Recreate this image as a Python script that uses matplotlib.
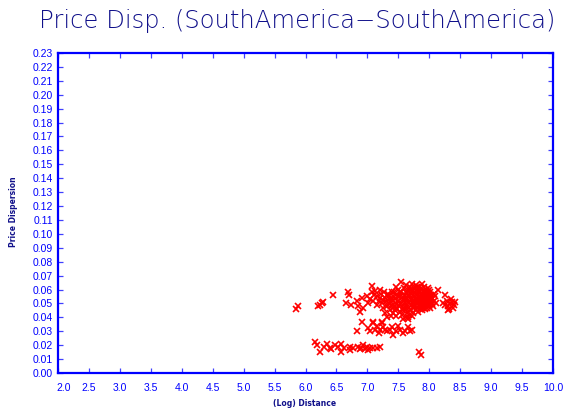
import matplotlib
matplotlib.use("Agg")
import matplotlib.pyplot as plt
import matplotlib.transforms as mtransforms
import numpy as np

# (log distance, price dispersion) for South America city pairs
log_distance = [
    # isolated low-distance pairs
    5.85, 5.88, 6.20, 6.23, 6.26, 6.29, 6.45, 6.69, 6.70,
    # left part of the upper group
    6.66, 6.74, 6.83, 6.85, 6.91, 6.93, 6.99, 7.07, 7.07, 7.12, 7.15,
    7.20, 7.09, 7.01, 6.88, 7.26, 7.31, 7.31,
    7.18, 7.22, 7.24, 7.27, 7.29, 7.25, 7.28, 7.32, 7.38,
    7.04, 7.11, 7.16, 7.21, 7.34, 7.37, 7.43, 7.49, 7.39, 7.45,
    # main group
    7.30, 7.33, 7.35, 7.36, 7.38, 7.40, 7.41, 7.42, 7.44, 7.45,
    7.46, 7.47, 7.48, 7.50, 7.50, 7.51, 7.52, 7.53, 7.54, 7.55,
    7.55, 7.56, 7.57, 7.58, 7.59, 7.60, 7.60, 7.61, 7.62, 7.62,
    7.63, 7.64, 7.65, 7.65, 7.66, 7.67, 7.68, 7.68, 7.69, 7.70,
    7.70, 7.71, 7.72, 7.72, 7.73, 7.74, 7.74, 7.75, 7.75, 7.76,
    7.77, 7.77, 7.78, 7.78, 7.79, 7.79, 7.80, 7.80, 7.81, 7.81,
    7.82, 7.82, 7.83, 7.83, 7.84, 7.84, 7.85, 7.85, 7.86, 7.86,
    7.87, 7.87, 7.88, 7.88, 7.89, 7.89, 7.90, 7.90, 7.91, 7.91,
    7.92, 7.92, 7.93, 7.93, 7.94, 7.94, 7.95, 7.95, 7.96, 7.96,
    7.97, 7.97, 7.98, 7.98, 7.99, 8.00, 8.00, 8.01, 8.02, 8.02,
    8.03, 8.04, 8.05, 8.06, 8.07, 8.08, 8.10, 8.11,
    7.58, 7.66, 7.72, 7.47, 7.63, 7.72, 7.88,
    7.61, 7.64, 7.67, 7.71, 7.74, 7.76, 7.79, 7.82, 7.85, 7.88,
    7.91, 7.94, 7.97, 8.00, 8.03, 7.63, 7.69, 7.73, 7.78, 7.83,
    7.87, 7.92, 7.96, 8.01, 8.05, 7.66, 7.75, 7.81, 7.90, 7.99,
    7.57, 7.53, 7.49, 7.44, 7.40, 7.35, 7.58, 7.52, 7.46, 7.42,
    # far right group
    8.14, 8.25, 8.22, 8.28, 8.30, 8.33, 8.36, 8.40, 8.38, 8.30,
    8.26, 8.35, 8.42, 8.32,
    # middle band
    6.84, 6.92, 7.01, 7.04, 7.09, 7.12, 7.15, 7.18, 7.20, 7.23,
    7.26, 7.28, 7.32, 7.36, 7.40, 7.42, 7.46, 7.50, 7.53, 7.57,
    7.61, 7.65, 7.69, 7.72, 7.66, 7.09, 7.23,
    # lower band
    6.15, 6.18, 6.23, 6.30, 6.34, 6.39, 6.42, 6.47, 6.53, 6.58,
    6.58, 6.62, 6.72, 6.72, 6.76, 6.85, 6.88, 6.90, 6.93, 6.96,
    6.99, 7.01, 7.05, 7.09, 7.15, 7.20,
    # low outliers
    7.84, 7.86,
]

price_dispersion = [
    0.046, 0.048, 0.048, 0.049, 0.050, 0.051, 0.056, 0.058, 0.056,
    0.050, 0.049, 0.0515, 0.048, 0.054, 0.0467, 0.055, 0.0623, 0.058, 0.0587, 0.055,
    0.060, 0.0515, 0.050, 0.044, 0.0527, 0.056, 0.048,
    0.052, 0.057, 0.050, 0.058, 0.054, 0.047, 0.043, 0.040, 0.041,
    0.053, 0.056, 0.049, 0.054, 0.057, 0.053, 0.058, 0.055, 0.049, 0.045,
    0.052, 0.049, 0.055, 0.045, 0.051, 0.058, 0.047, 0.043, 0.053, 0.050,
    0.056, 0.041, 0.046, 0.060, 0.052, 0.048, 0.044, 0.055, 0.058, 0.0655,
    0.050, 0.042, 0.047, 0.053, 0.061, 0.045, 0.056, 0.050, 0.040, 0.058,
    0.048, 0.053, 0.044, 0.060, 0.051, 0.047, 0.055, 0.042, 0.062, 0.049,
    0.057, 0.045, 0.053, 0.059, 0.050, 0.043, 0.047, 0.055, 0.061, 0.052,
    0.049, 0.058, 0.045, 0.063, 0.054, 0.050, 0.047, 0.060, 0.056, 0.052,
    0.044, 0.058, 0.049, 0.062, 0.054, 0.051, 0.046, 0.059, 0.056, 0.053,
    0.048, 0.061, 0.050, 0.057, 0.045, 0.054, 0.052, 0.059, 0.048, 0.056,
    0.062, 0.050, 0.054, 0.046, 0.058, 0.052, 0.049, 0.060, 0.055, 0.051,
    0.047, 0.057, 0.053, 0.061, 0.049, 0.055, 0.051, 0.058, 0.047, 0.053,
    0.056, 0.050, 0.054, 0.048, 0.057, 0.052, 0.055, 0.050,
    0.039, 0.040, 0.041, 0.062, 0.063, 0.064, 0.064,
    0.0525, 0.0575, 0.0505, 0.0545, 0.0595, 0.0485, 0.0565, 0.0515, 0.0555, 0.0475,
    0.0535, 0.0505, 0.0555, 0.0485, 0.0525, 0.0465, 0.0595, 0.0515, 0.0535, 0.0585,
    0.0505, 0.0545, 0.0575, 0.0535, 0.0495, 0.0555, 0.0475, 0.0615, 0.0465, 0.0595,
    0.0545, 0.0495, 0.0515, 0.0485, 0.0535, 0.0505, 0.0455, 0.0585, 0.0465, 0.0555,
    0.060, 0.056, 0.050, 0.052, 0.048, 0.050, 0.051, 0.049, 0.047, 0.045,
    0.049, 0.053, 0.051, 0.046,
    0.030, 0.037, 0.032, 0.030, 0.036, 0.031, 0.034, 0.029, 0.031, 0.036,
    0.033, 0.031, 0.030, 0.031, 0.033, 0.027, 0.030, 0.034, 0.031, 0.029,
    0.030, 0.033, 0.030, 0.031, 0.039, 0.037, 0.037,
    0.0225, 0.020, 0.0153, 0.019, 0.021, 0.018, 0.017, 0.020, 0.019, 0.021,
    0.015, 0.018, 0.019, 0.0165, 0.018, 0.019, 0.017, 0.018, 0.020, 0.017,
    0.019, 0.0165, 0.018, 0.018, 0.018, 0.019,
    0.015, 0.013,
]

x_ticks = np.arange(2.0, 10.01, 0.5)
y_ticks = np.arange(0.0, 0.2301, 0.01)

AXIS_BLUE = "#0000ff"
TEXT_NAVY = "#10108a"

fig = plt.figure(figsize=(5.65, 4.12), dpi=100)
ax = fig.add_axes([58 / 565, 39 / 412, 495 / 565, 320 / 412])

ax.plot(log_distance, price_dispersion, linestyle="none", marker="x",
        color="#ff0000", markersize=5, markeredgewidth=1.2)

ax.set_xlim(2.0, 10.0)
ax.set_ylim(0.0, 0.23)
ax.set_xticks(x_ticks)
ax.set_yticks(y_ticks)
ax.set_xticklabels([f"{v:.1f}" for v in x_ticks])
ax.set_yticklabels([f"{v:.2f}" for v in y_ticks])

for spine in ax.spines.values():
    spine.set_color(AXIS_BLUE)
    spine.set_linewidth(1.6)

ax.tick_params(axis="both", which="both", direction="in", length=3.5, width=0.9,
               color="#4040ff", top=True, right=True, labelcolor=AXIS_BLUE,
               labelsize=7.5)
ax.tick_params(axis="x", pad=7)
ax.tick_params(axis="y", pad=3.5)
for lab in ax.get_xticklabels() + ax.get_yticklabels():
    lab.set_family("Liberation Sans")

# nudge the first x label clear of the y labels
first = ax.get_xticklabels()[0]
first.set_transform(first.get_transform() +
                    mtransforms.ScaledTranslation(6 / 100, 0, fig.dpi_scale_trans))

fig.text(297.5 / 565, 1 - 21 / 412, "Price Disp. (SouthAmerica\u2212SouthAmerica)",
         ha="center", va="center", fontsize=17.5, color=TEXT_NAVY,
         family="DejaVu Sans", fontweight="light")
fig.text(305 / 565, 1 - 404 / 412, "(Log) Distance", ha="center", va="center",
         fontsize=5.5, fontweight="bold", color=TEXT_NAVY, family="DejaVu Sans")
fig.text(13 / 565, 1 - 212 / 412, "Price Dispersion", ha="center", va="center",
         rotation=90, fontsize=5.5, fontweight="bold", color=TEXT_NAVY,
         family="DejaVu Sans")

fig.savefig("out.png", dpi=100)
